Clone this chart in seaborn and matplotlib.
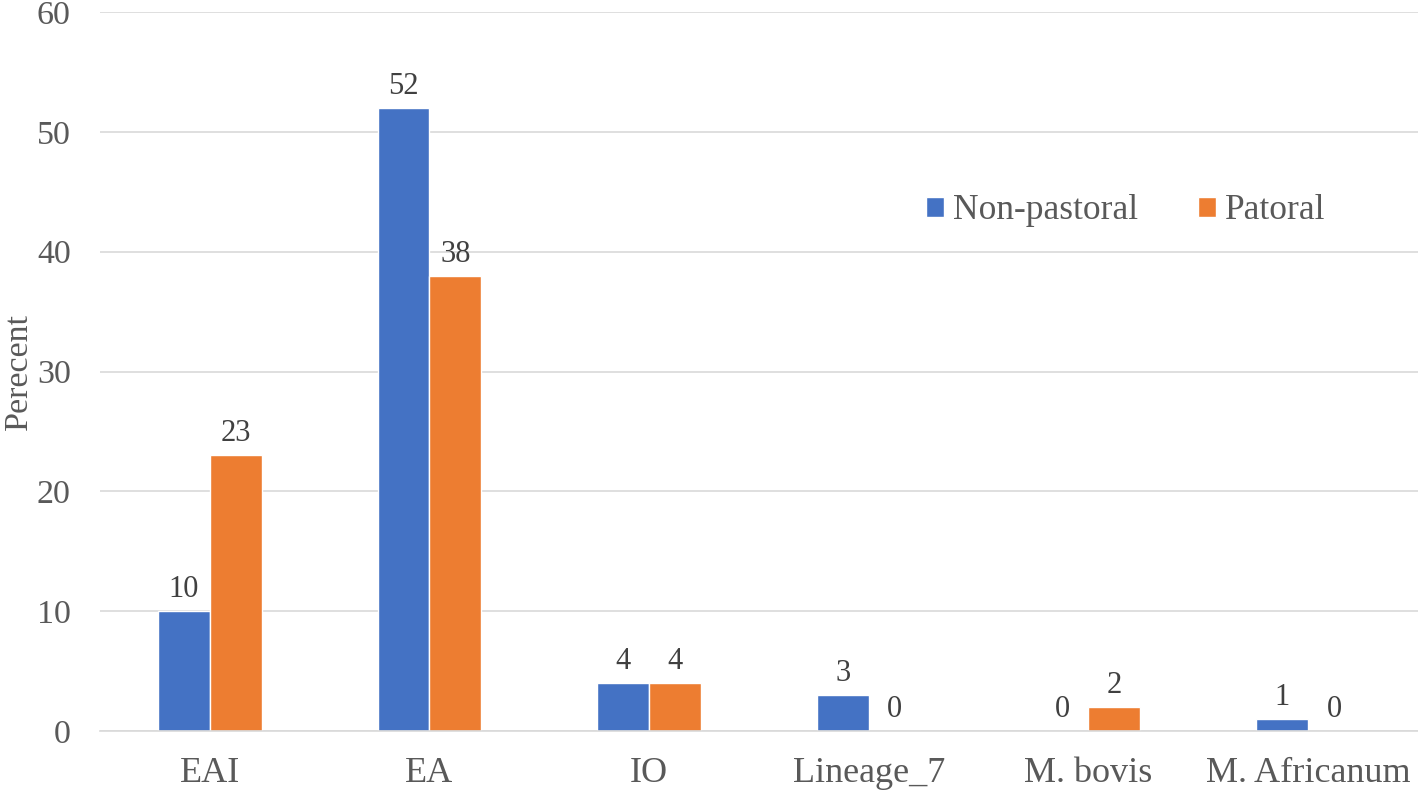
import matplotlib
matplotlib.use("Agg")
import matplotlib.pyplot as plt
import seaborn as sns
import pandas as pd

categories = ["EAI", "EA", "IO", "Lineage_7", "M. bovis", "M. Africanum"]
non_pastoral = [10, 52, 4, 3, 0, 1]
pastoral = [23, 38, 4, 0, 2, 0]
series_names = ["Non-pastoral", "Patoral"]
y_ticks = [0, 10, 20, 30, 40, 50, 60]

df = pd.DataFrame({
    "Category": categories * 2,
    "Group": [series_names[0]] * len(categories) + [series_names[1]] * len(categories),
    "Percent": non_pastoral + pastoral,
})

sns.set_theme(style="white")
plt.rcParams['font.family'] = ['Liberation Serif', 'DejaVu Serif']
text_color = "#595959"

fig = plt.figure(figsize=(14.18, 7.9), dpi=100)
ax = fig.add_axes([0.0705, 0.0747, 0.9295, 0.910])

sns.barplot(data=df, x="Category", y="Percent", hue="Group", order=categories,
            hue_order=series_names, palette=["#4472C4", "#ED7D31"],
            width=0.473, ax=ax, errorbar=None, saturation=1, legend=True)

ax.set_xlim(-0.5, 5.5)
ax.set_ylim(0, 60)
ax.set_yticks(y_ticks)
ax.yaxis.grid(True, color="#D9D9D9", linewidth=1.2)
ax.set_axisbelow(True)
for s in ["top", "right", "left"]:
    ax.spines[s].set_visible(False)
ax.spines["bottom"].set_color("#D9D9D9")
ax.spines["bottom"].set_linewidth(1.2)
ax.tick_params(axis="y", length=0, labelsize=24.5, colors=text_color, pad=21)
ax.tick_params(axis="x", length=0, labelsize=26, colors=text_color, pad=19)
ax.set_xlabel("")
ax.set_ylabel("Perecent", fontsize=24.5, color=text_color)
ax.yaxis.set_label_coords(-0.05, 0.5)

for cont in ax.containers:
    ax.bar_label(cont, fmt="%g", padding=5, fontsize=22, color="#404040")

handles, labels = ax.get_legend_handles_labels()
ax.legend(handles, labels, loc="center", bbox_to_anchor=(0.794, 0.733),
          bbox_transform=fig.transFigure, ncol=2, frameon=False,
          fontsize=25.5, handlelength=0.5, handleheight=0.5, handletextpad=0.25,
          columnspacing=1.7, labelcolor=text_color)

fig.savefig("out.png", dpi=100)
